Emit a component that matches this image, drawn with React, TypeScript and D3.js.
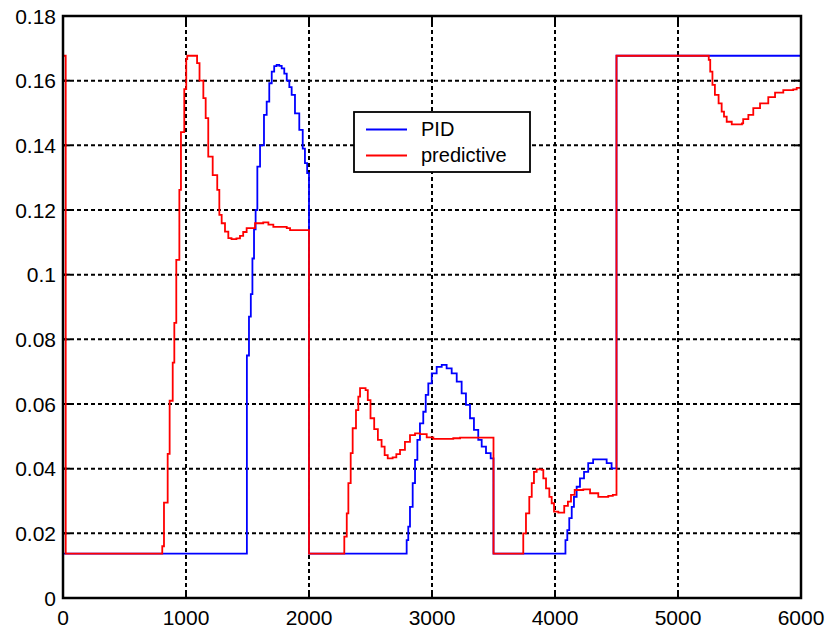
import React from "react";
import * as d3 from "d3";

const xTicks = [0, 1000, 2000, 3000, 4000, 5000, 6000];
const yTicks = [0, 0.02, 0.04, 0.06, 0.08, 0.1, 0.12, 0.14, 0.16, 0.18];
const yTickLabels = ["0", "0.02", "0.04", "0.06", "0.08", "0.1", "0.12", "0.14", "0.16", "0.18"];
const seriesNames = ["PID", "predictive"];
const seriesColors = ["#0000ff", "#ff0000"];

const pidT = [0, 1495, 1512, 1527, 1540, 1553, 1566, 1580, 1602, 1634, 1656, 1677, 1697, 1717, 1737, 1758, 1778, 1799, 1819, 1840, 1859, 1886, 1921, 1949, 1967, 1985, 2000,
  2794, 2807, 2821, 2843, 2862, 2881, 2902, 2929, 2949, 2970, 2998, 3038, 3079, 3119, 3160, 3201, 3241, 3276, 3309, 3341, 3376, 3404, 3439, 3477, 3500,
  4085, 4100, 4116, 4136, 4154, 4176, 4203, 4236, 4270, 4310, 4380, 4420, 4460, 4500, 6000];
const pidV = [0.0137, 0.075, 0.087, 0.094, 0.105, 0.114, 0.12, 0.1334, 0.14, 0.1494, 0.1535, 0.1592, 0.1628, 0.1645, 0.1649, 0.1646, 0.1638, 0.1622, 0.16, 0.158, 0.1556, 0.1499, 0.1448, 0.139, 0.1345, 0.1314, 0.0137,
  0.0179, 0.0221, 0.0282, 0.0355, 0.0427, 0.0489, 0.054, 0.0576, 0.0628, 0.0664, 0.0695, 0.0715, 0.0721, 0.071, 0.0695, 0.0669, 0.0633, 0.0597, 0.0556, 0.052, 0.0489, 0.0468, 0.0448, 0.0432, 0.0137,
  0.0179, 0.021, 0.0247, 0.0282, 0.0313, 0.0344, 0.037, 0.039, 0.0417, 0.0429, 0.0429, 0.0417, 0.0401, 0.1677, 0.1677];

const predT = [0, 22, 807, 821, 851, 867, 892, 905, 921, 946, 959, 986, 1002, 1010, 1090, 1110, 1141, 1160, 1181, 1217, 1254, 1271, 1290, 1317, 1344, 1370, 1410, 1439, 1465, 1493, 1561, 1628, 1670, 1710, 1819, 1846, 2000,
  2287, 2307, 2320, 2339, 2355, 2382, 2401, 2415, 2460, 2478, 2500, 2530, 2560, 2590, 2615, 2640, 2680, 2710, 2740, 2780, 2821, 2862, 2902, 2957, 3011, 3173, 3228, 3500,
  3742, 3764, 3791, 3811, 3829, 3851, 3892, 3905, 3927, 3954, 3973, 3992, 4027, 4075, 4105, 4130, 4160, 4230, 4285, 4352, 4433, 4470, 4500,
  5250, 5262, 5280, 5300, 5330, 5355, 5374, 5396, 5437, 5520, 5530, 5572, 5612, 5667, 5734, 5789, 5856, 5937, 5965, 6000];
const predV = [0.1677, 0.0137, 0.016, 0.0295, 0.0446, 0.061, 0.0728, 0.0851, 0.1046, 0.1262, 0.1441, 0.1574, 0.1667, 0.1677, 0.1654, 0.16, 0.1546, 0.1484, 0.1365, 0.1308, 0.1262, 0.1185, 0.1159, 0.1133, 0.1113, 0.111, 0.1112, 0.112, 0.1132, 0.1144, 0.1159, 0.1162, 0.1155, 0.1148, 0.1144, 0.1138, 0.0137,
  0.019, 0.0262, 0.0355, 0.0448, 0.0525, 0.0581, 0.0623, 0.0649, 0.0643, 0.0612, 0.0556, 0.0522, 0.0489, 0.0468, 0.0442, 0.0432, 0.0435, 0.0445, 0.0458, 0.0483, 0.0504, 0.0509, 0.0507, 0.0497, 0.0492, 0.0494, 0.0496, 0.0137,
  0.02, 0.0262, 0.0313, 0.0355, 0.039, 0.0398, 0.0396, 0.037, 0.0339, 0.0313, 0.0293, 0.0267, 0.0264, 0.0285, 0.0298, 0.0319, 0.0334, 0.0336, 0.0324, 0.0313, 0.0316, 0.0319, 0.1677,
  0.1664, 0.1628, 0.1587, 0.1556, 0.153, 0.1504, 0.1489, 0.1473, 0.1465, 0.1468, 0.1481, 0.1494, 0.1515, 0.153, 0.1549, 0.1563, 0.1571, 0.1573, 0.1578, 0.1578];

const W = 827, H = 630;
const M = { left: 63, right: 801, top: 16, bottom: 598 };
const FONT = "'Liberation Sans', Arial, sans-serif";

export default function App() {
  const x = d3.scaleLinear().domain([0, 6000]).range([M.left, M.right]);
  const y = d3.scaleLinear().domain([0, 0.18]).range([M.bottom, M.top]);
  const line = d3.line<[number, number]>()
    .x(d => x(d[0]))
    .y(d => y(d[1]))
    .curve(d3.curveStepAfter);
  const pid: [number, number][] = pidT.map((t, i) => [t, pidV[i]]);
  const pred: [number, number][] = predT.map((t, i) => [t, predV[i]]);
  const series = [pid, pred];

  const lx = 354, ly = 112, lw = 176, lh = 60;

  return (
    <svg width={W} height={H} style={{ position: "absolute", left: 0, top: 0, background: "#fff" }} fontFamily={FONT}>
      <rect x={0} y={0} width={W} height={H} fill="#fff" />
      {/* grid */}
      {xTicks.slice(1, -1).map(t => (
        <line key={"gx" + t} x1={x(t)} x2={x(t)} y1={M.top} y2={M.bottom} stroke="#000" strokeWidth={2} strokeDasharray="4,3" />
      ))}
      {yTicks.slice(1, -1).map(t => (
        <line key={"gy" + t} x1={M.left} x2={M.right} y1={y(t)} y2={y(t)} stroke="#000" strokeWidth={2} strokeDasharray="4,3" />
      ))}
      {/* ticks */}
      {xTicks.map(t => (
        <g key={"tx" + t}>
          <line x1={x(t)} x2={x(t)} y1={M.bottom} y2={M.bottom - 7} stroke="#000" strokeWidth={2} />
          <line x1={x(t)} x2={x(t)} y1={M.top} y2={M.top + 7} stroke="#000" strokeWidth={2} />
        </g>
      ))}
      {yTicks.map(t => (
        <g key={"ty" + t}>
          <line x1={M.left} x2={M.left + 7} y1={y(t)} y2={y(t)} stroke="#000" strokeWidth={2} />
          <line x1={M.right} x2={M.right - 7} y1={y(t)} y2={y(t)} stroke="#000" strokeWidth={2} />
        </g>
      ))}
      {/* data */}
      {series.map((s, i) => (
        <path key={"s" + i} d={line(s) || ""} fill="none" stroke={seriesColors[i]} strokeWidth={1.8} strokeLinejoin="miter" />
      ))}
      {/* box */}
      <rect x={M.left} y={M.top} width={M.right - M.left} height={M.bottom - M.top} fill="none" stroke="#000" strokeWidth={2.5} />
      {/* tick labels */}
      {xTicks.map(t => (
        <text key={"lx" + t} x={x(t)} y={625} textAnchor="middle" fontSize={21} fill="#000">{t}</text>
      ))}
      {yTicks.map((t, i) => (
        <text key={"ly" + t} x={56} y={y(t)} dy="0.36em" textAnchor="end" fontSize={21} fill="#000">{yTickLabels[i]}</text>
      ))}
      {/* legend */}
      <rect x={lx} y={ly} width={lw} height={lh} fill="#fff" stroke="#000" strokeWidth={1.8} />
      {seriesNames.map((n, i) => (
        <g key={"lg" + n}>
          <line x1={366} x2={407} y1={129.5 + i * 26} y2={129.5 + i * 26} stroke={seriesColors[i]} strokeWidth={1.8} />
          <text x={421} y={136 + i * 26} fontSize={20} fill="#000">{n}</text>
        </g>
      ))}
    </svg>
  );
}
